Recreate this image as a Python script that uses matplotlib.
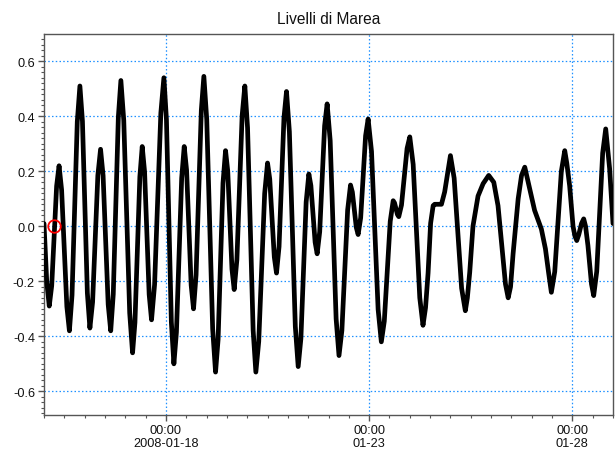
import matplotlib
matplotlib.use("Agg")
import matplotlib.pyplot as plt
import matplotlib.dates as mdates
from matplotlib.ticker import MultipleLocator, FixedLocator
import pandas as pd

plt.rcParams['font.family'] = ['Liberation Sans', 'DejaVu Sans']

# Hours after 2008-01-15 00:00 and tide level (m)
hours = [0.0, 1.6, 3.1, 4.55, 7.45, 8.9, 10.4, 13.5, 15.0, 16.55,
         19.65, 21.2, 22.7, 25.6, 27.1, 28.7, 31.8, 33.4, 34.9, 37.9,
         39.4, 40.9, 43.9, 45.4, 47.1, 50.6, 52.3, 53.7, 56.6, 58.0,
         59.4, 62.1, 63.5, 65.3, 69.0, 70.8, 72.3, 75.2, 76.7, 78.2,
         81.3, 82.8, 84.2, 86.9, 88.3, 89.8, 92.9, 94.4, 96.1, 99.6,
         101.3, 102.8, 105.7, 107.2, 108.5, 111.0, 112.3, 113.9, 117.0, 118.6,
         120.2, 123.5, 125.1, 126.8, 130.3, 132.0, 133.3, 136.0, 137.3, 138.8,
         141.7, 143.2, 144.9, 148.4, 150.1, 151.7, 154.8, 156.4, 157.6, 160.1,
         161.3, 162.8, 165.7, 167.2, 169.0, 172.5, 174.2, 175.9, 179.3, 181.0,
         182.1, 184.4, 185.5, 187.0, 189.9, 191.4, 193.4, 197.3, 199.2, 200.95,
         204.45, 206.2, 207.0, 208.7, 209.5, 211.1, 214.4, 216.0, 218.0, 221.9,
         223.8, 225.3, 226.8, 228.3, 229.8, 230.7, 234.7, 236.6, 240.0, 242.2,
         246.6, 248.8, 250.0, 251.4, 253.3, 256.3, 259.3, 262.6, 265.6, 268.1,
         270.7, 272.5, 274.1, 275.5, 277.0, 280.0, 282.0, 283.9, 286.8, 289.7,
         293.7, 296.1, 298.0, 299.6, 301.6, 305.5, 307.5, 308.7, 310.4, 312.4,
         313.5, 314.6, 315.8, 317.4, 318.7, 319.8, 321.2, 323.3, 324.6, 326.4,
         329.9, 331.7, 334.0, 336.0]
levels = [0.01, -0.20, -0.29, -0.216, 0.146, 0.22, 0.132, -0.292, -0.38, -0.25,
          0.38, 0.51, 0.382, -0.242, -0.37, -0.275, 0.185, 0.28, 0.184, -0.284,
          -0.38, -0.247, 0.397, 0.53, 0.385, -0.315, -0.46, -0.35, 0.18, 0.29,
          0.198, -0.248, -0.34, -0.212, 0.412, 0.54, 0.388, -0.348, -0.50, -0.385,
          0.175, 0.29, 0.204, -0.214, -0.30, -0.177, 0.422, 0.545, 0.388, -0.373,
          -0.53, -0.412, 0.157, 0.275, 0.201, -0.156, -0.23, -0.122, 0.402, 0.51,
          0.358, -0.378, -0.53, -0.419, 0.119, 0.23, 0.172, -0.112, -0.17, -0.074,
          0.394, 0.49, 0.344, -0.364, -0.51, -0.408, 0.088, 0.19, 0.148, -0.058,
          -0.10, -0.02, 0.365, 0.445, 0.311, -0.336, -0.47, -0.379, 0.059, 0.15,
          0.124, -0.004, -0.03, 0.031, 0.329, 0.39, 0.272, -0.302, -0.42, -0.345,
          0.018, 0.093, 0.085, 0.043, 0.035, 0.077, 0.283, 0.325, 0.225, -0.26,
          -0.36, -0.296, -0.17, 0.011, 0.075, 0.08, 0.08, 0.125, 0.257, 0.175,
          -0.225, -0.307, -0.26, -0.167, 0.0, 0.11, 0.155, 0.185, 0.16, 0.075,
          -0.095, -0.21, -0.26, -0.22, -0.10, 0.10, 0.185, 0.215, 0.137, 0.058,
          -0.01, -0.082, -0.17, -0.24, -0.165, 0.20, 0.275, 0.23, 0.147, 0.0,
          -0.035, -0.052, -0.03, 0.01, 0.027, 0.0, -0.07, -0.21, -0.252, -0.164,
          0.266, 0.354, 0.21, 0.01]

marker_hour = 5.9
marker_level = 0.0

y_ticks = [-0.6, -0.4, -0.2, 0.0, 0.2, 0.4, 0.6]
x_tick_dates = ['2008-01-18', '2008-01-23', '2008-01-28']
x_tick_labels = ['00:00\n2008-01-18', '00:00\n01-23', '00:00\n01-28']
title = 'Livelli di Marea'

start = pd.Timestamp('2008-01-15 00:00')
times = [start + pd.Timedelta(hours=h) for h in hours]
marker_time = start + pd.Timedelta(hours=marker_hour)

fig = plt.figure(figsize=(6.16, 4.52), dpi=100)
ax = fig.add_axes([44/616, 1-416/452, (613-44)/616, (416-35)/452])

grid_color = '#1e90ff'
for yv in y_ticks:
    ax.axhline(yv, color=grid_color, lw=0.9, ls=(0, (1.2, 1.8)), zorder=1)
for d in x_tick_dates:
    ax.axvline(pd.Timestamp(d), color=grid_color, lw=0.9, ls=(0, (1.2, 1.8)), zorder=1)

ax.plot(times, levels, color='black', lw=3.4, solid_joinstyle='round',
        solid_capstyle='round', zorder=3)
ax.plot([marker_time], [marker_level], marker='o', ms=9, mfc='none',
        mec='red', mew=1.3, zorder=4)

ax.set_xlim(start, start + pd.Timedelta(days=14))
ax.set_ylim(-0.686, 0.699)

ax.yaxis.set_major_locator(FixedLocator(y_ticks))
ax.set_yticklabels([f'{v:.1f}' for v in y_ticks])
ax.yaxis.set_minor_locator(MultipleLocator(0.02))

ax.xaxis.set_major_locator(FixedLocator([mdates.date2num(pd.Timestamp(d)) for d in x_tick_dates]))
ax.set_xticklabels(x_tick_labels, linespacing=1.15)
ax.xaxis.set_minor_locator(mdates.HourLocator(byhour=[0, 12]))

spine_color = '#555555'
for s in ax.spines.values():
    s.set_color(spine_color)
    s.set_linewidth(1.0)
ax.tick_params(which='major', direction='out', length=4, width=1.0,
               color=spine_color, labelsize=9.2, labelcolor='#111111', pad=2.5)
ax.tick_params(which='minor', direction='out', length=2.5, width=0.8,
               color=spine_color)

fig.text((44+613)/2/616, 1-20/452, title, ha='center', va='center',
         fontsize=11.2, color='#111111')

fig.savefig('out.png', dpi=100)
